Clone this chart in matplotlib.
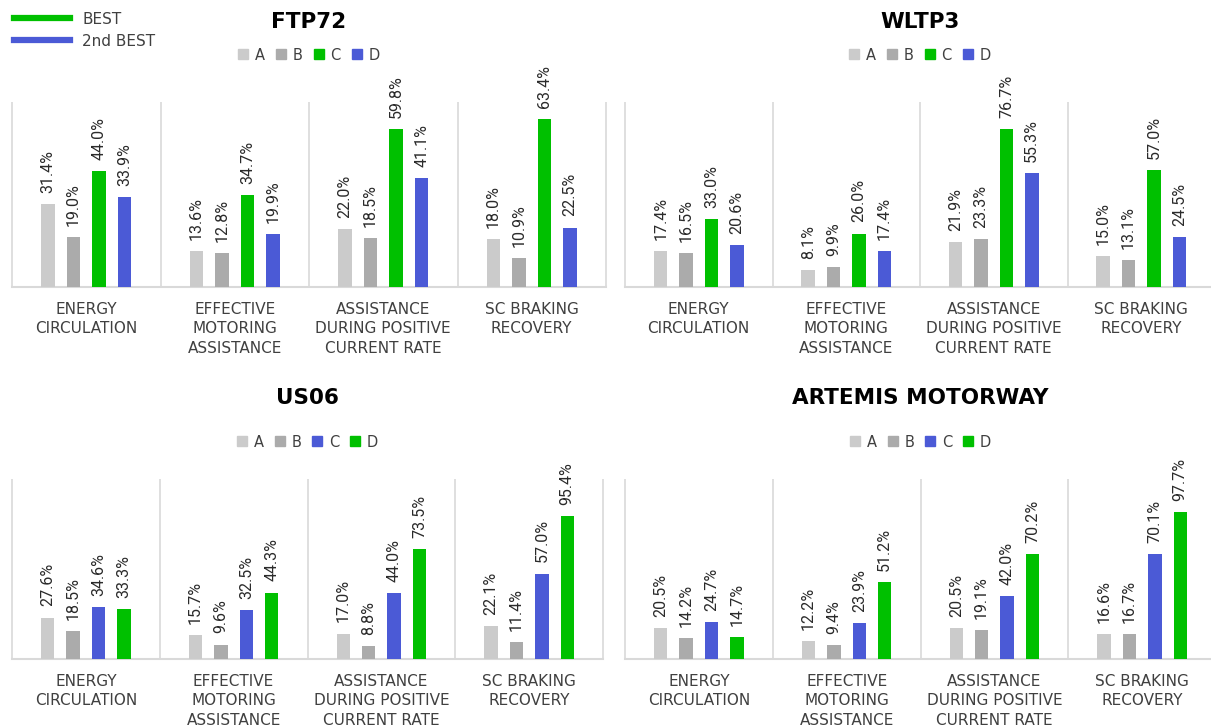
import matplotlib
matplotlib.use("Agg")
import matplotlib.pyplot as plt
from matplotlib.lines import Line2D
import numpy as np

# ---- data -------------------------------------------------------------
categories = ["ENERGY\nCIRCULATION",
              "EFFECTIVE\nMOTORING\nASSISTANCE",
              "ASSISTANCE\nDURING POSITIVE\nCURRENT RATE",
              "SC BRAKING\nRECOVERY"]
series_names = ["A", "B", "C", "D"]

cycle_titles = ["FTP72", "WLTP3", "US06", "ARTEMIS MOTORWAY"]

# values per cycle: rows = categories, columns = A, B, C, D  (percent)
ftp72 = [[31.4, 19.0, 44.0, 33.9],
         [13.6, 12.8, 34.7, 19.9],
         [22.0, 18.5, 59.8, 41.1],
         [18.0, 10.9, 63.4, 22.5]]
wltp3 = [[17.4, 16.5, 33.0, 20.6],
         [8.1, 9.9, 26.0, 17.4],
         [21.9, 23.3, 76.7, 55.3],
         [15.0, 13.1, 57.0, 24.5]]
us06 = [[27.6, 18.5, 34.6, 33.3],
        [15.7, 9.6, 32.5, 44.3],
        [17.0, 8.8, 44.0, 73.5],
        [22.1, 11.4, 57.0, 95.4]]
artemis = [[20.5, 14.2, 24.7, 14.7],
           [12.2, 9.4, 23.9, 51.2],
           [20.5, 19.1, 42.0, 70.2],
           [16.6, 16.7, 70.1, 97.7]]

# which of C / D is the best performer in each cycle
best_series = ["C", "C", "D", "D"]

# ---- styling ----------------------------------------------------------
GREEN = "#00C000"
BLUE = "#4B5AD6"
GRAY_A = "#CBCBCB"
GRAY_B = "#ABABAB"
GRID = "#D9D9D9"
TEXT = "#404040"
LABEL = "#2A2A2A"

W, H = 1211, 727
fig = plt.figure(figsize=(W / 100, H / 100), dpi=100)

# axes boxes in pixels: (left, right, top, baseline)
boxes = [(12, 606, 102, 287),
         (625, 1215, 102, 287),
         (12, 603, 479, 659),
         (625, 1216, 479, 659)]
ylims = [70, 90, 120, 120]
title_y = [22, 22, 398, 398]
legend_y = [55, 55, 442, 442]

datasets = [ftp72, wltp3, us06, artemis]

bar_w = 0.091
step = 0.172
offsets = (np.arange(4) - 1.5) * step
x = np.arange(len(categories))

for k, (data, title) in enumerate(zip(datasets, cycle_titles)):
    l, r, t, b = boxes[k]
    ax = fig.add_axes([l / W, 1 - b / H, (r - l) / W, (b - t) / H])
    vals = np.array(data)
    if best_series[k] == "C":
        colors = [GRAY_A, GRAY_B, GREEN, BLUE]
    else:
        colors = [GRAY_A, GRAY_B, BLUE, GREEN]

    handles = []
    for j, name in enumerate(series_names):
        bars = ax.bar(x + offsets[j], vals[:, j], width=bar_w,
                      color=colors[j], label=name, zorder=3)
        ax.bar_label(bars, labels=[f"{v:.1f}%" for v in vals[:, j]],
                     padding=8, rotation=90, fontsize=11.5,
                     family="Roboto", color=LABEL)
        handles.append(Line2D([], [], marker="s", linestyle="none",
                              markersize=6.5, color=colors[j]))

    ax.set_xlim(-0.5, len(categories) - 0.5)
    ax.set_ylim(0, ylims[k])
    ax.axis("off")
    # group separators and baseline
    ax.vlines(np.arange(len(categories) + 1) - 0.5, 0, ylims[k],
              color=GRID, lw=1.2, zorder=1, clip_on=False)
    ax.axhline(0, color=GRID, lw=1.5, zorder=2, clip_on=False)

    for i, cat in enumerate(categories):
        ax.annotate(cat, xy=(i, 0), xycoords=("data", "axes fraction"),
                    xytext=(0, -10.5), textcoords="offset points",
                    ha="center", va="top", fontsize=11,
                    linespacing=1.38, color=TEXT, family="DejaVu Sans")

    cx = (l + r) / 2 / W
    fig.text(cx, 1 - title_y[k] / H, title, ha="center", va="center",
             fontsize=15.5, fontweight="bold", color="black",
             family="DejaVu Sans")
    fig.legend(handles, series_names, ncol=4, loc="center",
               bbox_to_anchor=(cx, 1 - legend_y[k] / H), frameon=False,
               fontsize=10.5, handlelength=0.7, handletextpad=0.45,
               columnspacing=0.75, labelcolor=TEXT)

# overall legend for best / second best
fig.legend([Line2D([], [], color=GREEN, lw=4.5),
            Line2D([], [], color=BLUE, lw=4.5)],
           ["BEST", "2nd BEST"], loc="upper left",
           bbox_to_anchor=(0.0, 1.0 + 2 / H), frameon=False, fontsize=11,
           handlelength=3.7, handletextpad=0.8, labelspacing=0.45,
           labelcolor=TEXT)

fig.savefig("out.png", dpi=100)
